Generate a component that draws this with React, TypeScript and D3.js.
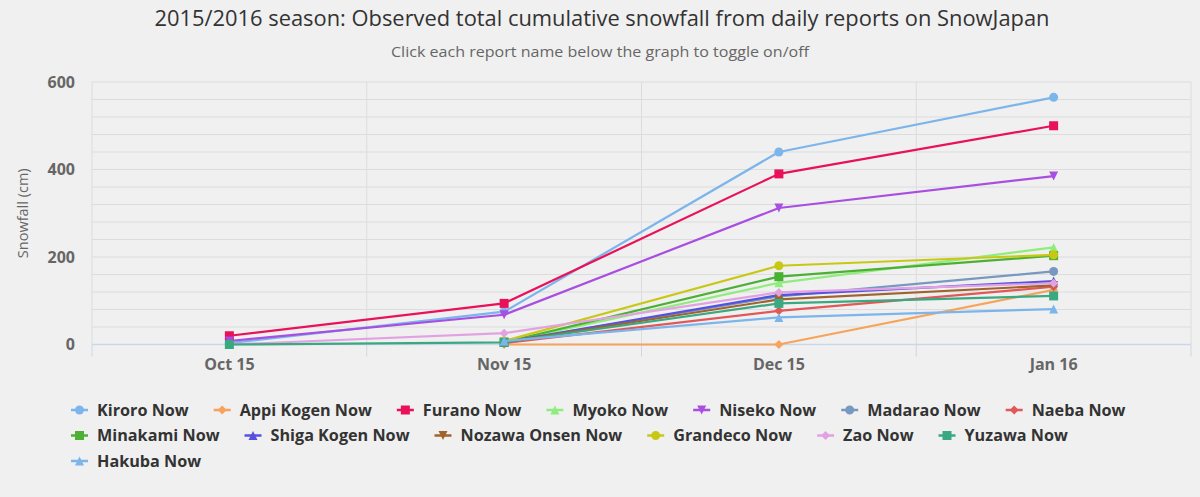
import * as React from 'react';
import * as d3 from 'd3';

// Data (cm of cumulative snowfall)
const categories = ['Oct 15', 'Nov 15', 'Dec 15', 'Jan 16'];
const yTicks = [0, 200, 400, 600];

const kiroro = [3, 75, 440, 565];
const appiKogen = [null, 0, 0, 125];
const furano = [20, 94, 390, 500];
const myoko = [null, 5, 141, 222];
const niseko = [8, 68, 312, 385];
const madarao = [null, 5, 110, 167];
const naeba = [null, 3, 77, 132];
const minakami = [null, 5, 155, 203];
const shigaKogen = [null, 5, 113, 145];
const nozawaOnsen = [null, 5, 103, 135];
const grandeco = [null, 8, 180, 205];
const zao = [0, 26, 119, 140];
const yuzawa = [0, 5, 94, 111];
const hakuba = [null, 8, 62, 81];

type Shape = 'circle' | 'diamond' | 'square' | 'triangle' | 'triangle-down';

const series: { name: string; values: (number | null)[]; color: string; shape: Shape }[] = [
  { name: 'Kiroro Now', values: kiroro, color: '#7cb5ec', shape: 'circle' },
  { name: 'Appi Kogen Now', values: appiKogen, color: '#f7a35c', shape: 'diamond' },
  { name: 'Furano Now', values: furano, color: '#e8115a', shape: 'square' },
  { name: 'Myoko Now', values: myoko, color: '#90ed7d', shape: 'triangle' },
  { name: 'Niseko Now', values: niseko, color: '#a84ee0', shape: 'triangle-down' },
  { name: 'Madarao Now', values: madarao, color: '#7798bf', shape: 'circle' },
  { name: 'Naeba Now', values: naeba, color: '#e05858', shape: 'diamond' },
  { name: 'Minakami Now', values: minakami, color: '#4cb035', shape: 'square' },
  { name: 'Shiga Kogen Now', values: shigaKogen, color: '#5552e0', shape: 'triangle' },
  { name: 'Nozawa Onsen Now', values: nozawaOnsen, color: '#a0632d', shape: 'triangle-down' },
  { name: 'Grandeco Now', values: grandeco, color: '#c8c814', shape: 'circle' },
  { name: 'Zao Now', values: zao, color: '#e2a2e2', shape: 'diamond' },
  { name: 'Yuzawa Now', values: yuzawa, color: '#3aa880', shape: 'square' },
  { name: 'Hakuba Now', values: hakuba, color: '#7cb5ec', shape: 'triangle' },
];

const W = 1200;
const H = 497;
const plot = { left: 92, right: 1191, top: 82, bottom: 344.5 };
const legendSize = 16.2;
const legendFont = `700 ${legendSize}px "Open Sans"`;

const markerPath = (shape: Shape, cx: number, cy: number, r: number) => {
  const p = d3.path();
  if (shape === 'circle') {
    p.arc(cx, cy, r, 0, Math.PI * 2);
  } else if (shape === 'square') {
    p.rect(cx - r, cy - r, r * 2, r * 2);
  } else if (shape === 'diamond') {
    p.moveTo(cx, cy - r); p.lineTo(cx + r, cy); p.lineTo(cx, cy + r); p.lineTo(cx - r, cy); p.closePath();
  } else if (shape === 'triangle') {
    p.moveTo(cx, cy - r); p.lineTo(cx + r, cy + r); p.lineTo(cx - r, cy + r); p.closePath();
  } else {
    p.moveTo(cx - r, cy - r); p.lineTo(cx + r, cy - r); p.lineTo(cx, cy + r); p.closePath();
  }
  return p.toString();
};

let ctx: CanvasRenderingContext2D | null = null;
const textWidth = (s: string) => {
  if (!ctx) ctx = document.createElement('canvas').getContext('2d');
  if (!ctx) return s.length * 9;
  ctx.font = legendFont;
  return ctx.measureText(s).width;
};

export default function App() {
  const [ready, setReady] = React.useState(false);
  React.useEffect(() => {
    // re-layout legend once fonts are available
    (document as any).fonts?.ready?.then(() => setReady(true));
  }, []);

  const x = d3.scaleBand<string>().domain(categories).range([plot.left, plot.right]);
  const y = d3.scaleLinear().domain([0, 600]).range([plot.bottom, plot.top]);
  const minorTicks = d3.range(0, 601, 40);
  const bounds = d3.range(categories.length + 1).map((i) => plot.left + i * x.step());

  const line = d3
    .line<number | null>()
    .defined((d) => d != null)
    .x((_, i) => (x(categories[i]) as number) + x.bandwidth() / 2)
    .y((d) => y(d as number));

  // legend flow layout
  const legendItems: { s: typeof series[number]; x0: number; cy: number }[] = [];
  let lx = 71;
  let row = 0;
  series.forEach((s) => {
    const w = 26 + textWidth(s.name);
    if (lx + w > 1170) {
      lx = 71;
      row += 1;
    }
    legendItems.push({ s, x0: lx, cy: 410 + row * 25.5 });
    lx += w + 25;
  });

  return (
    <svg width={W} height={H} style={{ position: 'absolute', left: 0, top: 0 }} data-ready={ready}>
      <rect width={W} height={H} fill="#f0f0f0" />

      <text x={602} y={26} textAnchor="middle" fill="#333" fontSize={21}
        fontFamily="'Liberation Sans Narrow', 'Open Sans', sans-serif"
        textLength={895} lengthAdjust="spacingAndGlyphs">
        2015/2016 season: Observed total cumulative snowfall from daily reports on SnowJapan
      </text>
      <text x={600} y={57} textAnchor="middle" fill="#666" fontSize={14}
        fontFamily="'Liberation Sans Narrow', 'Open Sans', sans-serif"
        textLength={418} lengthAdjust="spacingAndGlyphs">
        Click each report name below the graph to toggle on/off
      </text>

      {/* horizontal grid */}
      {minorTicks.map((t) => (
        <line key={'h' + t} x1={plot.left} x2={plot.right} y1={y(t)} y2={y(t)} stroke="#dcdcdc" strokeWidth={1} />
      ))}
      {/* vertical grid + ticks */}
      {bounds.map((b, i) => (
        <g key={'v' + i}>
          <line x1={b} x2={b} y1={plot.top} y2={plot.bottom} stroke="#dcdcdc" strokeWidth={1} />
          <line x1={b} x2={b} y1={plot.bottom} y2={plot.bottom + 12} stroke="#ccd6eb" strokeWidth={1} />
        </g>
      ))}
      <line x1={plot.left} x2={plot.right} y1={plot.bottom} y2={plot.bottom} stroke="#ccd6eb" strokeWidth={1.5} />

      {/* y labels */}
      {yTicks.map((t) => (
        <text key={'yl' + t} x={75} y={y(t)} dy="0.35em" textAnchor="end" fill="#666"
          fontSize={16} fontWeight={700} fontFamily="'Open Sans', sans-serif">
          {t}
        </text>
      ))}
      <text transform={`translate(28, ${(plot.top + plot.bottom) / 2}) rotate(-90)`} textAnchor="middle"
        fill="#666" fontSize={14.5} fontFamily="'Open Sans', sans-serif">
        Snowfall (cm)
      </text>

      {/* x labels */}
      {categories.map((c) => (
        <text key={'xl' + c} x={(x(c) as number) + x.bandwidth() / 2} y={370} textAnchor="middle" fill="#666"
          fontSize={16} fontWeight={700} fontFamily="'Open Sans', sans-serif">
          {c}
        </text>
      ))}

      {/* series */}
      {series.map((s) => (
        <g key={s.name}>
          <path d={line(s.values) || ''} fill="none" stroke={s.color} strokeWidth={2.2} strokeLinejoin="round" />
          {s.values.map((v, i) =>
            v == null ? null : (
              <path key={i} d={markerPath(s.shape, (x(categories[i]) as number) + x.bandwidth() / 2, y(v), 4.5)}
                fill={s.color} />
            )
          )}
        </g>
      ))}

      {/* legend */}
      {legendItems.map(({ s, x0, cy }) => (
        <g key={'lg' + s.name}>
          <line x1={x0} x2={x0 + 17} y1={cy} y2={cy} stroke={s.color} strokeWidth={2.5} />
          <path d={markerPath(s.shape, x0 + 8.5, cy, 4.5)} fill={s.color} />
          <text x={x0 + 26} y={cy} dy="0.35em" fill="#333" fontSize={legendSize} fontWeight={700}
            fontFamily="'Open Sans', sans-serif">
            {s.name}
          </text>
        </g>
      ))}
    </svg>
  );
}
